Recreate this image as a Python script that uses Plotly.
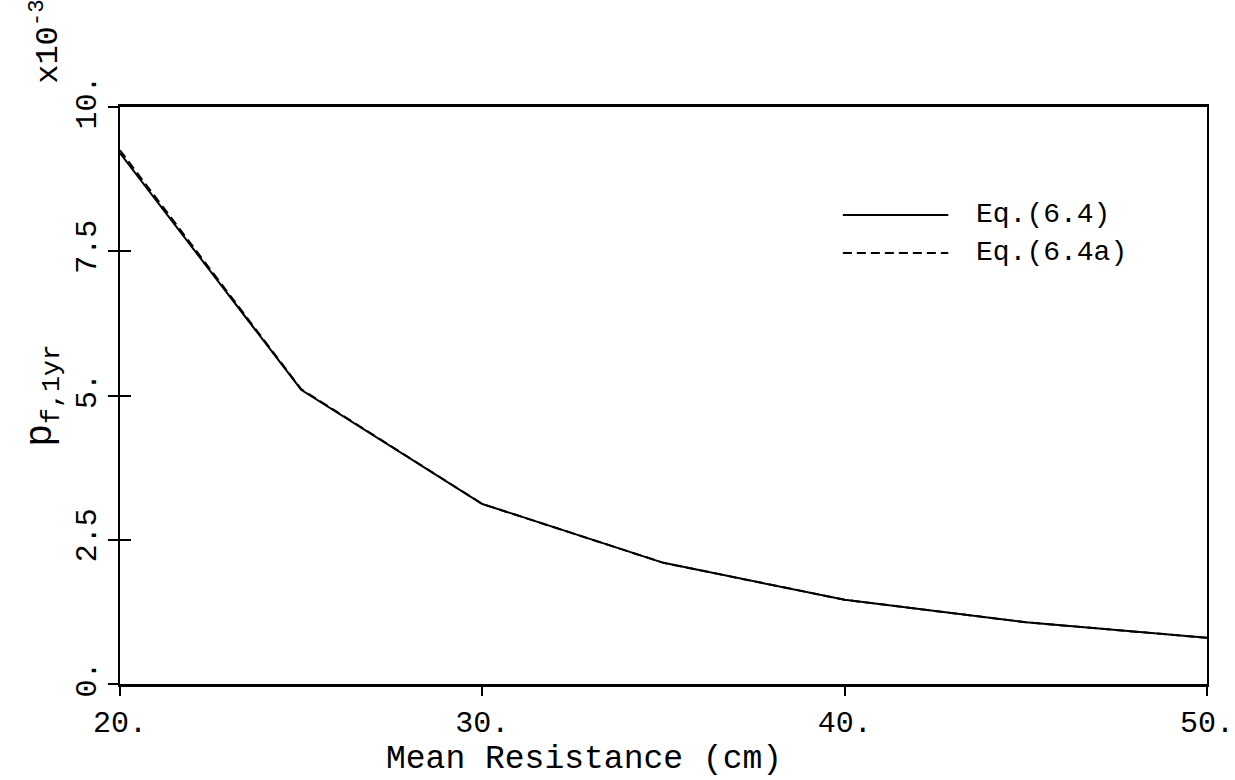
import plotly.graph_objects as go

resistance = [20, 25, 30, 35, 40, 45, 50]
pf_eq64 = [9.20, 5.10, 3.12, 2.10, 1.46, 1.07, 0.80]
pf_eq64a = [9.25, 5.11, 3.12, 2.10, 1.46, 1.07, 0.80]

x_ticks = [20, 30, 40, 50]
x_tick_text = ["20.", "30.", "40.", "50."]
y_ticks = [0, 2.5, 5, 7.5, 10]
y_tick_text = ["0.", "2.5", "5.", "7.5", "10."]

FONT = "Liberation Mono, Courier New, monospace"

fig = go.Figure()
fig.add_trace(go.Scatter(x=resistance, y=pf_eq64, mode="lines",
                         line=dict(color="black", width=2), name="Eq.(6.4)",
                         showlegend=False))
fig.add_trace(go.Scatter(x=resistance, y=pf_eq64a, mode="lines", yaxis="y2",
                         line=dict(color="black", width=2, dash="9px,5px"),
                         name="Eq.(6.4a)", showlegend=False))

fig.update_layout(
    width=1235, height=780,
    margin=dict(l=120, r=28, t=107, b=96),
    paper_bgcolor="white", plot_bgcolor="white",
    font=dict(family=FONT, color="black"),
    xaxis=dict(range=[20, 50], tickvals=x_ticks, ticktext=x_tick_text,
               ticks="outside", ticklen=9, tickwidth=2, tickcolor="black",
               showline=True, linecolor="black", linewidth=3, mirror=True,
               showgrid=False, zeroline=False, automargin=False,
               tickfont=dict(size=30, family=FONT)),
    yaxis=dict(range=[0, 10], tickvals=y_ticks, ticktext=y_tick_text,
               ticks="outside", ticklen=10, tickwidth=2, tickcolor="black",
               tickangle=-90, automargin=False,
               showline=True, linecolor="black", linewidth=2, mirror=True,
               showgrid=False, zeroline=False,
               tickfont=dict(size=30, family=FONT),
               title=dict(text="p<sub>f,1yr</sub>", standoff=8,
                          font=dict(size=38, family=FONT))),
    yaxis2=dict(range=[0, 10], overlaying="y", side="left",
                tickvals=y_ticks, ticks="inside", ticklen=11, tickwidth=2,
                tickcolor="black", showticklabels=False, showline=False,
                showgrid=False, zeroline=False, automargin=False),
)

# x axis title
fig.add_annotation(text="Mean Resistance (cm)", xref="paper", yref="paper",
                   x=0.427, y=-0.13, showarrow=False,
                   font=dict(size=33, family=FONT), xanchor="center", yanchor="middle")
# exponent
fig.add_annotation(text="x10<sup>-3</sup>", xref="paper", yref="paper",
                   x=-0.069, y=1.113, showarrow=False, textangle=-90,
                   font=dict(size=32, family=FONT), xanchor="center", yanchor="middle")

# legend (manual)
legend_names = ["Eq.(6.4)", "Eq.(6.4a)"]
legend_dash = ["solid", "9px,5px"]
legend_y = [0.813, 0.747]
for name, dash, ly in zip(legend_names, legend_dash, legend_y):
    fig.add_shape(type="line", xref="paper", yref="paper",
                  x0=0.665, x1=0.762, y0=ly, y1=ly,
                  line=dict(color="black", width=2, dash=dash))
    fig.add_annotation(text=name, xref="paper", yref="paper", x=0.786, y=ly,
                       showarrow=False, xanchor="left", yanchor="middle",
                       font=dict(size=28, family=FONT))

fig.write_html("out.html")
